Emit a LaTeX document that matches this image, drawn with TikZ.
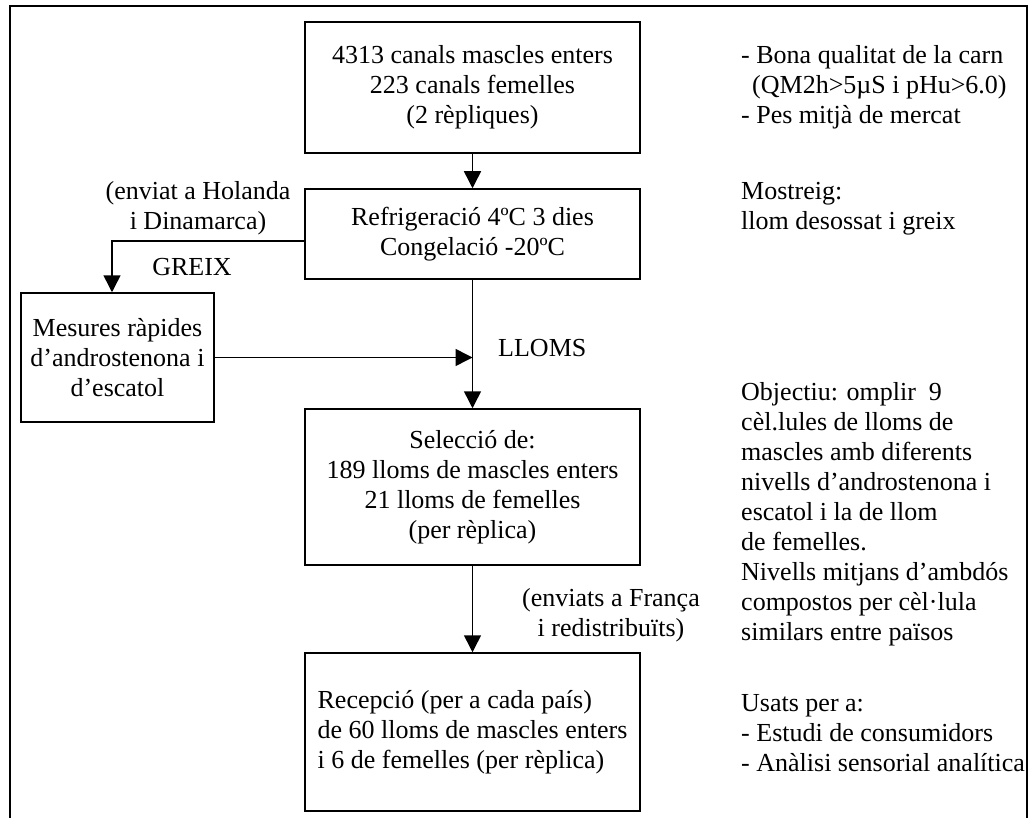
\documentclass[tikz,border=0pt]{standalone}
\usepackage{fontspec}
\setmainfont{Liberation Serif}
\usetikzlibrary{arrows.meta}
\begin{document}
\begin{tikzpicture}[x=1pt,y=-1pt,
  every node/.style={font=\fontsize{26}{30}\selectfont, inner sep=0pt},
  stepbox/.style={draw, line width=1.5pt, align=center},
  arr/.style={line width=1.5pt, -{Triangle[length=17pt,width=17pt]}},
  frame/.style={line width=2pt},
  note/.style={anchor=base west},
  clabel/.style={anchor=base}]
% page and outer frame (open at the bottom)
\fill[white] (0,0) rectangle (1035,818);
\useasboundingbox (0,0) rectangle (1035,818);
\draw[frame] (10,818) -- (10,6) -- (1027,6) -- (1027,818);

% flow boxes
\node[stepbox, minimum width=335pt, minimum height=131pt] (n1) at (472.5,87.5)
  {4313 canals mascles enters\\223 canals femelles\\(2 rèpliques)};
\node[stepbox, minimum width=335pt, minimum height=90pt] (n2) at (472.5,234)
  {Refrigeració 4ºC 3 dies\\Congelació -20ºC};
\node[stepbox, minimum width=193pt, minimum height=129pt] (n3) at (117.5,357.5)
  {Mesures ràpides\\d’androstenona i\\d’escatol};
\node[stepbox, minimum width=335pt, minimum height=156pt] (n4) at (472.5,487)
  {Selecció de:\\189 lloms de mascles enters\\21 lloms de femelles\\(per rèplica)};
\node[stepbox, align=left, minimum width=335pt, minimum height=158pt] (n5) at (472.5,732)
  {Recepció (per a cada país)\\de 60 lloms de mascles enters\\i 6 de femelles (per rèplica)};

% connectors
\draw[arr] (n1.south) -- (n2.north);
\draw[arr] ([yshift=-7pt]n2.west) -| ([xshift=-5.5pt]n3.north);
\draw[arr] (n2.south) -- (n4.north);
\draw[arr] (n3.east) -- (n3.east -| n2.south);
\draw[arr] (n4.south) -- (n5.north);

% connector labels
\node[clabel] (lbHol) at (198,200)
  {\begin{tabular}[t]{@{}c@{}}(enviat a Holanda\\i Dinamarca)\end{tabular}};
\node[clabel] (lbGreix) at (192,276) {GREIX};
\node[note] (lbLloms) at (498,356) {LLOMS};
\node[clabel] (lbFranca) at (611,606)
  {\begin{tabular}[t]{@{}c@{}}(enviats a França\\i redistribuïts)\end{tabular}};

% side notes
\node[note] (txQual) at (741,64)
  {\begin{tabular}[t]{@{}l@{}}- Bona qualitat de la carn\\\hspace*{11pt}(QM2h>5µS i pHu>6.0)\\- Pes mitjà de mercat\end{tabular}};
\node[note] (txMostreig) at (741,200)
  {\begin{tabular}[t]{@{}l@{}}Mostreig:\\llom desossat i greix\end{tabular}};
\node[note] (txObj) at (741,400)
  {\begin{tabular}[t]{@{}l@{}}Objectiu: omplir\ \ 9\\cèl.lules de lloms de\\mascles amb diferents\\nivells d’androstenona i\\escatol i la de llom\\de femelles.\\Nivells mitjans d’ambdós\\compostos per cèl·lula\\similars entre països\end{tabular}};
\node[note] (txUsats) at (741,711)
  {\begin{tabular}[t]{@{}l@{}}Usats per a:\\- Estudi de consumidors\\- Anàlisi sensorial analítica\end{tabular}};
\end{tikzpicture}
\end{document}
